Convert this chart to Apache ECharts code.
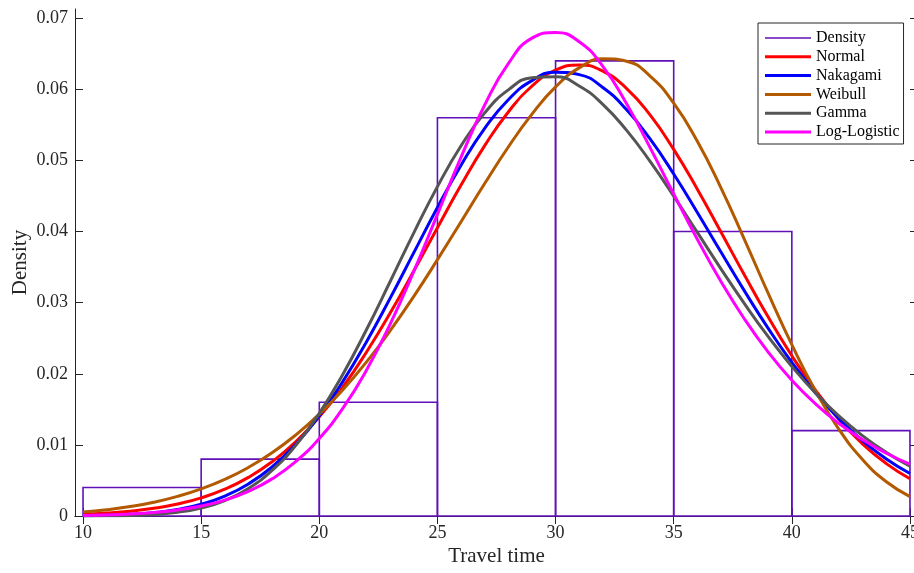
<!DOCTYPE html>
<html>
<head>
<meta charset="utf-8">
<script src="https://cdn.jsdelivr.net/npm/echarts@6/dist/echarts.min.js"></script>
<style>
html,body{margin:0;padding:0;background:#fff;}
#chart{width:914px;height:573px;}
</style>
</head>
<body>
<div id="chart"></div>
<script>
// ---- data ----
const binEdges = [10, 15, 20, 25, 30, 35, 40, 45];
const densityValues = [0.004, 0.008, 0.016, 0.056, 0.064, 0.040, 0.012];

const xPoints = [10, 11, 12, 13, 14, 15, 16, 17, 18, 19, 20, 21, 22, 23, 24, 25, 26, 27,
                 28, 29, 30, 31, 32, 33, 34, 35, 36, 37, 38, 39, 40, 41, 42, 43, 44, 45];

const normalPdf = [0.00025, 0.00042, 0.00068, 0.00108, 0.00168, 0.00255, 0.00377, 0.00543,
  0.00762, 0.01043, 0.01394, 0.01815, 0.02306, 0.02854, 0.03446, 0.04055, 0.04654, 0.05208,
  0.05682, 0.06046, 0.06271, 0.06343, 0.06255, 0.06015, 0.05640, 0.05156, 0.04596, 0.03994,
  0.03385, 0.02797, 0.02253, 0.01770, 0.01356, 0.01012, 0.00737, 0.00523];

const nakagamiPdf = [0.00004, 0.00010, 0.00023, 0.00047, 0.00091, 0.00165, 0.00280, 0.00451,
  0.00689, 0.01006, 0.01407, 0.01894, 0.02452, 0.03064, 0.03704, 0.04339, 0.04934, 0.05450,
  0.05854, 0.06123, 0.06241, 0.06207, 0.06026, 0.05716, 0.05302, 0.04810, 0.04269, 0.03712,
  0.03162, 0.02639, 0.02160, 0.01734, 0.01366, 0.01056, 0.00801, 0.00597];

const weibullPdf = [0.00056, 0.00088, 0.00133, 0.00194, 0.00276, 0.00381, 0.00515, 0.00683,
  0.00889, 0.01138, 0.01432, 0.01775, 0.02167, 0.02607, 0.03089, 0.03605, 0.04139, 0.04675,
  0.05189, 0.05651, 0.06034, 0.06302, 0.06430, 0.06396, 0.06187, 0.05806, 0.05270, 0.04615,
  0.03884, 0.03131, 0.02409, 0.01760, 0.01216, 0.00791, 0.00481, 0.00273];

const gammaPdf = [0.00001, 0.00003, 0.00008, 0.00022, 0.00053, 0.00113, 0.00218, 0.00388,
  0.00641, 0.00992, 0.01445, 0.01995, 0.02622, 0.03298, 0.03982, 0.04632, 0.05206, 0.05669,
  0.05992, 0.06163, 0.06178, 0.06048, 0.05790, 0.05426, 0.04987, 0.04499, 0.03988, 0.03476,
  0.02983, 0.02522, 0.02103, 0.01730, 0.01404, 0.01127, 0.00894, 0.00701];

const logLogisticPdf = [0.00007, 0.00015, 0.00028, 0.00050, 0.00085, 0.00140, 0.00224, 0.00347,
  0.00522, 0.00764, 0.01091, 0.01516, 0.02052, 0.02698, 0.03440, 0.04242, 0.05047, 0.05780,
  0.06362, 0.06720, 0.06800, 0.06670, 0.06324, 0.05800, 0.05181, 0.04530, 0.03892, 0.03298,
  0.02767, 0.02305, 0.01909, 0.01577, 0.01300, 0.01071, 0.00883, 0.00729];

const xTicks = [10, 15, 20, 25, 30, 35, 40, 45];
const yTicks = [0, 0.01, 0.02, 0.03, 0.04, 0.05, 0.06, 0.07];

const seriesNames = ['Normal', 'Nakagami', 'Weibull', 'Gamma', 'Log-Logistic'];
const seriesValues = [normalPdf, nakagamiPdf, weibullPdf, gammaPdf, logLogisticPdf];
const seriesColors = ['#ff0000', '#0000ff', '#b35900', '#555555', '#ff00ff'];
const histColor = '#6010b8';

// ---- chart ----
const FONT = 'Liberation Serif';
const AX = '#262626';
const chart = echarts.init(document.getElementById('chart'), null, {renderer: 'canvas'});

const histData = densityValues.map((v, i) => [binEdges[i], binEdges[i + 1], v]);

const lineSeries = seriesNames.map((name, k) => ({
  name: name,
  type: 'line',
  xAxisIndex: 0, yAxisIndex: 0,
  data: xPoints.map((x, i) => [x, seriesValues[k][i]]),
  smooth: true,
  symbol: 'none',
  lineStyle: {color: seriesColors[k], width: 3},
  itemStyle: {color: seriesColors[k]},
  z: 3 + k,
  clip: true
}));

const lineIcon = 'path://M0,0H46V3H0Z';

const option = {
  animation: false,
  backgroundColor: '#ffffff',
  grid: {left: 75, top: 9, width: 843, bottom: 57, containLabel: false, outerBoundsMode: 'none'},
  xAxis: [{
    type: 'value', position: 'bottom', min: 9.66, max: 45.34,
    name: 'Travel time', nameLocation: 'middle', nameGap: 40, nameMoveOverlap: false,
    nameTextStyle: {fontFamily: FONT, fontSize: 21, color: AX, verticalAlign: 'middle'},
    axisLine: {show: true, lineStyle: {color: AX, width: 1}},
    axisTick: {show: true, inside: true, length: 8, customValues: xTicks, lineStyle: {color: AX}},
    axisLabel: {show: true, customValues: xTicks, margin: 8, fontFamily: FONT, fontSize: 18, color: AX},
    splitLine: {show: false}
  }, {
    type: 'value', position: 'top', min: 9.66, max: 45.34,
    axisLine: {show: true, lineStyle: {color: AX, width: 1}},
    axisTick: {show: true, inside: true, length: 8, customValues: xTicks, lineStyle: {color: AX}},
    axisLabel: {show: false},
    splitLine: {show: false}
  }],
  yAxis: [{
    type: 'value', position: 'left', min: 0, max: 0.0713,
    name: 'Density', nameLocation: 'middle', nameGap: 55, nameRotate: 90, nameMoveOverlap: false,
    nameTextStyle: {fontFamily: FONT, fontSize: 21, color: AX, verticalAlign: 'middle', align: 'center'},
    axisLine: {show: true, lineStyle: {color: AX, width: 1}},
    axisTick: {show: true, inside: true, length: 8, customValues: yTicks, lineStyle: {color: AX}},
    axisLabel: {show: true, customValues: yTicks, margin: 7, fontFamily: FONT, fontSize: 18, color: AX},
    splitLine: {show: false}
  }, {
    type: 'value', position: 'right', min: 0, max: 0.0713,
    axisLine: {show: true, lineStyle: {color: AX, width: 1}},
    axisTick: {show: true, inside: true, length: 8, customValues: yTicks, lineStyle: {color: AX}},
    axisLabel: {show: false},
    splitLine: {show: false}
  }],
  legend: {
    orient: 'vertical', left: 758, top: 23, align: 'left',
    padding: [7, 4, 4, 7],
    backgroundColor: '#ffffff', borderColor: AX, borderWidth: 1,
    itemWidth: 46, itemHeight: 15, itemGap: 2.8,
    symbolKeepAspect: true,
    textStyle: {fontFamily: FONT, fontSize: 16, color: '#000', lineHeight: 16},
    data: [
      {name: 'Density', icon: 'path://M0,0H46V1.6H0Z', itemStyle: {color: histColor}},
      {name: 'Normal', icon: lineIcon},
      {name: 'Nakagami', icon: lineIcon},
      {name: 'Weibull', icon: lineIcon},
      {name: 'Gamma', icon: lineIcon},
      {name: 'Log-Logistic', icon: lineIcon}
    ]
  },
  series: [{
    name: 'Density',
    type: 'custom',
    xAxisIndex: 0, yAxisIndex: 0,
    data: histData,
    encode: {x: [0, 1], y: 2},
    itemStyle: {color: histColor},
    z: 2,
    renderItem: function (params, api) {
      const p0 = api.coord([api.value(0), api.value(2)]);
      const p1 = api.coord([api.value(1), 0]);
      return {
        type: 'rect',
        shape: {x: p0[0], y: p0[1], width: p1[0] - p0[0], height: p1[1] - p0[1]},
        style: {fill: 'none', stroke: histColor, lineWidth: 1.6}
      };
    }
  }].concat(lineSeries)
};
chart.setOption(option);
</script>
</body>
</html>
